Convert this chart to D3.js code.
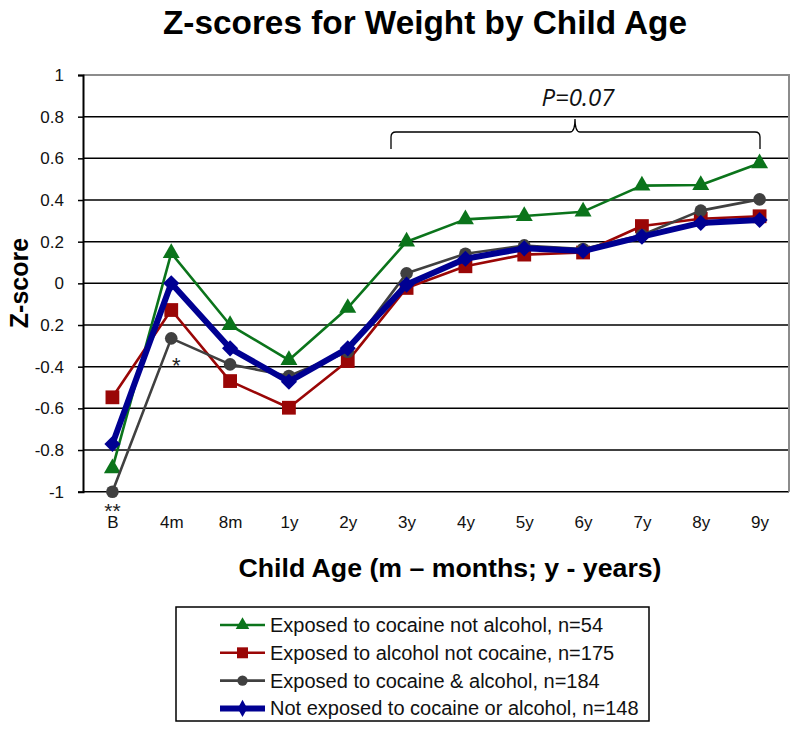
<!DOCTYPE html>
<html><head><meta charset="utf-8">
<script src="https://cdn.jsdelivr.net/npm/d3@7"></script>
<style>body{margin:0;background:#fff}svg{display:block;font-family:"Liberation Sans",Arial,sans-serif}</style>
</head><body>
<svg id="c" width="800" height="732"></svg>
<script>
const categories = ["B","4m","8m","1y","2y","3y","4y","5y","6y","7y","8y","9y"];
const cocaineNotAlcohol = [-0.888,0.145,-0.2,-0.368,-0.118,0.2,0.307,0.323,0.344,0.469,0.472,0.576];
const alcoholNotCocaine = [-0.547,-0.128,-0.469,-0.597,-0.373,-0.022,0.082,0.138,0.148,0.275,0.31,0.322];
const cocaineAndAlcohol = [-1.0,-0.264,-0.389,-0.445,-0.328,0.048,0.142,0.182,0.165,0.232,0.349,0.403];
const notExposed = [-0.771,0.0,-0.312,-0.472,-0.312,-0.006,0.118,0.168,0.155,0.224,0.29,0.304];
const seriesNames = ["Exposed to cocaine not alcohol, n=54","Exposed to alcohol not cocaine, n=175","Exposed to cocaine & alcohol, n=184","Not exposed to cocaine or alcohol, n=148"];
const yTickValues = [1,0.8,0.6,0.4,0.2,0,-0.2,-0.4,-0.6,-0.8,-1];
const yTickLabels = ["1","0.8","0.6","0.4","0.2","0","0.2","-0.4","-0.6","-0.8","-1"];

const series = [
  {name:seriesNames[0], values:cocaineNotAlcohol, color:"#0b741b", width:2.6, marker:"triangle", size:125, lsize:80},
  {name:seriesNames[1], values:alcoholNotCocaine, color:"#9a0606", width:2.6, marker:"square", size:190, lsize:120},
  {name:seriesNames[2], values:cocaineAndAlcohol, color:"#404040", width:2.6, marker:"circle", size:125, lsize:85},
  {name:seriesNames[3], values:notExposed, color:"#000092", width:6, marker:"diamond", size:130, lsize:70}
];
const symMap = {triangle:d3.symbolTriangle, square:d3.symbolSquare, circle:d3.symbolCircle, diamond:d3.symbolSquare};

const svg = d3.select("#c");
const L=83, R=789, T=75, B=491.7;
const x = d3.scalePoint().domain(categories).range([L,R]).padding(0.5);
const y = d3.scaleLinear().domain([-1,1]).range([B,T]);

// title
svg.append("text").attr("x",425).attr("y",34).attr("text-anchor","middle")
  .attr("font-size",33).attr("font-weight","bold").attr("textLength",524).attr("lengthAdjust","spacingAndGlyphs")
  .text("Z-scores for Weight by Child Age");

// grid
svg.append("g").selectAll("line").data(yTickValues.filter(v=>v<1)).join("line")
  .attr("x1",L).attr("x2",R).attr("y1",d=>y(d)).attr("y2",d=>y(d))
  .attr("stroke","#000").attr("stroke-width",1.5);
// border top/right
svg.append("path").attr("d",`M${L},${y(1)}H${R}V${y(-1)}`).attr("fill","none").attr("stroke","#8c8c8c").attr("stroke-width",2);

// y axis
const yAxis = d3.axisLeft(y).tickValues(yTickValues).tickFormat((d,i)=>yTickLabels[i]).tickSize(5).tickPadding(14);
const ga = svg.append("g").attr("transform",`translate(${L},0)`).call(yAxis);
ga.select(".domain").attr("stroke","#000").attr("stroke-width",2);
ga.selectAll(".tick line").attr("stroke","#000").attr("stroke-width",1.5);
ga.selectAll("text").attr("font-size",17).attr("fill","#111").attr("font-family","Liberation Sans, Arial, sans-serif");

// x axis labels
const xAxis = d3.axisBottom(x).tickSize(0).tickPadding(24);
const gx = svg.append("g").attr("transform",`translate(0,${B})`).call(xAxis);
gx.select(".domain").remove();
gx.selectAll("text").attr("font-size",17).attr("fill","#111").attr("font-family","Liberation Sans, Arial, sans-serif");

// axis titles
svg.append("text").attr("transform","translate(28,283) rotate(-90)").attr("text-anchor","middle")
  .attr("font-size",25).attr("font-weight","bold").text("Z-score");
svg.append("text").attr("x",450).attr("y",577).attr("text-anchor","middle")
  .attr("font-size",25).attr("font-weight","bold").attr("textLength",423).attr("lengthAdjust","spacingAndGlyphs")
  .text("Child Age (m \u2013 months; y - years)");

// lines
const line = d3.line().x((d,i)=>x(categories[i])).y(d=>y(d));
series.forEach(s=>{
  const g = svg.append("g");
  g.append("path").attr("d",line(s.values)).attr("fill","none").attr("stroke",s.color)
    .attr("stroke-width",s.width).attr("stroke-linejoin","round");
  g.selectAll("path.m").data(s.values).join("path").attr("class","m")
    .attr("transform",(d,i)=>`translate(${x(categories[i])},${y(d)})${s.marker==="diamond"?" rotate(45)":""}`)
    .attr("d",d3.symbol().type(symMap[s.marker]).size(s.size)).attr("fill",s.color);
});

// annotations
svg.append("text").attr("x",x("B")).attr("y",518).attr("text-anchor","middle").attr("font-size",21).attr("fill","#222").text("**");
svg.append("text").attr("x",x("4m")+5).attr("y",373).attr("text-anchor","middle").attr("font-size",22).attr("fill","#222").text("*");

// bracket
const bx1=391, bx2=760, bm=575, by=132, bEnd=149, bTip=119;
svg.append("path").attr("d",
  `M${bx1},${bEnd} V${by+5} Q${bx1},${by} ${bx1+5},${by} H${bm-5} Q${bm},${by} ${bm},${bTip} Q${bm},${by} ${bm+5},${by} H${bx2-5} Q${bx2},${by} ${bx2},${by+5} V${bEnd}`)
  .attr("fill","none").attr("stroke","#000").attr("stroke-width",1.3);
svg.append("text").attr("x",578).attr("y",106).attr("text-anchor","middle").attr("font-size",24)
  .attr("font-style","italic").attr("font-family","Open Sans, sans-serif").attr("fill","#111").text("P=0.07");

// legend
const lg = svg.append("g");
lg.append("rect").attr("x",176).attr("y",607).attr("width",473).attr("height",114).attr("fill","#fff").attr("stroke","#000").attr("stroke-width",1.5);
series.forEach((s,i)=>{
  const yy = 625 + i*27.8;
  lg.append("line").attr("x1",220).attr("x2",265).attr("y1",yy).attr("y2",yy).attr("stroke",s.color).attr("stroke-width",s.width);
  lg.append("path").attr("transform",`translate(242.5,${yy})${s.marker==="diamond"?" scale(0.55,1) rotate(45)":""}`)
    .attr("d",d3.symbol().type(symMap[s.marker]).size(s.marker==="diamond"?150:s.lsize)).attr("fill",s.color);
  lg.append("text").attr("x",270).attr("y",yy+7).attr("font-size",20).attr("fill","#111").text(s.name);
});
</script>
</body></html>
